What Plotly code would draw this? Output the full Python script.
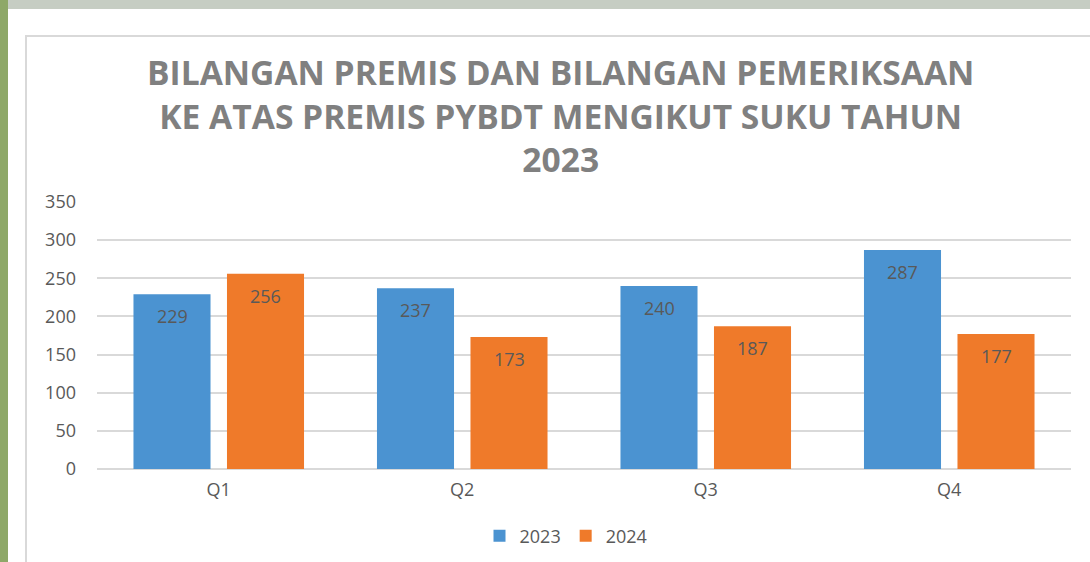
import plotly.graph_objects as go

categories = ["Q1", "Q2", "Q3", "Q4"]
values_2023 = [229, 237, 240, 287]
values_2024 = [256, 173, 187, 177]
series_names = ["2023", "2024"]
title_lines = ["BILANGAN PREMIS DAN BILANGAN PEMERIKSAAN",
               "KE ATAS PREMIS PYBDT MENGIKUT SUKU TAHUN",
               "2023"]

W, H = 1090, 562
OFF = 0  # page offset of the plot div (body margin removed)
ML, MT = 97 - OFF, 202 - OFF
PW, PH = 974, 267
MR = W - ML - PW
MB = H - MT - PH

def px_x(p):
    return (p - OFF - ML) / PW

def px_y(p):
    return (H - MB - (p - OFF)) / PH

FONT = "Open Sans"
GRAY = "#595959"
BLUE = "#4b93d1"
ORANGE = "#ef7a2a"

fig = go.Figure()
fig.add_trace(go.Bar(x=categories, y=values_2023, name=series_names[0],
                     marker=dict(color=BLUE, line=dict(width=0))))
fig.add_trace(go.Bar(x=categories, y=values_2024, name=series_names[1],
                     marker=dict(color=ORANGE, line=dict(width=0))))

annotations = []
for vals, shift in ((values_2023, -46.75), (values_2024, 46.75)):
    for c, v in zip(categories, vals):
        annotations.append(dict(x=c, y=v, xref="x", yref="y", text=str(v),
                                showarrow=False, xshift=shift, yshift=-8,
                                yanchor="top", font=dict(family=FONT, size=18, color=GRAY)))

annotations.append(dict(x=px_x(560), y=px_y(115), xref="paper", yref="paper",
                        text="<br>".join(title_lines), showarrow=False,
                        xanchor="center", yanchor="middle", align="center",
                        font=dict(family=FONT, size=33.6, color="#808080", weight="bold")))

shapes = [
    dict(type="rect", xref="paper", yref="paper", x0=px_x(-10), x1=px_x(W + 20), y0=px_y(-10), y1=px_y(9),
         fillcolor="#c6cdc3", line=dict(width=0), layer="below"),
    dict(type="rect", xref="paper", yref="paper", x0=px_x(-10), x1=px_x(8), y0=px_y(-10), y1=px_y(H + 20),
         fillcolor="#8ea868", line=dict(width=0), layer="below"),
    dict(type="rect", xref="paper", yref="paper", x0=px_x(26), x1=px_x(W + 20), y0=px_y(36), y1=px_y(H + 20),
         fillcolor="rgba(0,0,0,0)", line=dict(color="#d9d9d9", width=2), layer="below"),
]

fig.update_layout(
    width=W, height=H,
    margin=dict(l=ML, r=MR, t=MT, b=MB, autoexpand=False),
    paper_bgcolor="white", plot_bgcolor="white",
    barmode="group", bargap=0.232, bargroupgap=0.176,
    font=dict(family=FONT, color=GRAY, size=18),
    showlegend=True,
    legend=dict(orientation="h", x=px_x(566), xanchor="center", y=px_y(536), yanchor="middle",
                font=dict(family=FONT, size=18, color=GRAY), traceorder="normal",
                itemwidth=30),
    annotations=annotations,
    shapes=shapes,
)
fig.update_yaxes(range=[0, 350], dtick=50, showgrid=True, gridcolor="#d9d9d9", gridwidth=1.5,
                 zeroline=True, zerolinecolor="#d9d9d9", zerolinewidth=1.5,
                 showline=False, ticks="", ticklabelstandoff=20,
                 tickfont=dict(family=FONT, size=18, color=GRAY))
fig.update_xaxes(showline=False, ticks="", ticklabelstandoff=8,
                 tickfont=dict(family=FONT, size=18, color=GRAY))

fig.write_html("out.html", config={"displayModeBar": False},
               post_script="document.body.style.margin='0';document.body.style.overflow='hidden';")
